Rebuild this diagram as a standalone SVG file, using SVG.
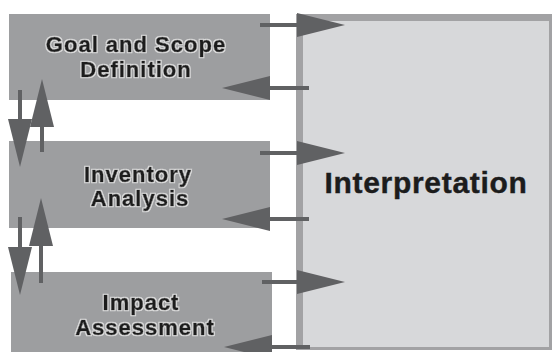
<svg xmlns="http://www.w3.org/2000/svg" width="552" height="352" viewBox="0 0 552 352">
  <style>
    .stage { fill: #9d9ea0; }
    .label { font-family: "Liberation Sans", Arial, sans-serif; font-weight: bold; font-size: 22px; letter-spacing: 1px; fill: #1c1c1c; stroke: #1c1c1c; stroke-width: 0.6; text-anchor: middle; filter: url(#halo); }
    .big { font-family: "Liberation Sans", Arial, sans-serif; font-weight: bold; font-size: 30px; letter-spacing: 0.7px; fill: #1c1c1c; stroke: #1c1c1c; stroke-width: 0.4; text-anchor: middle; }
    .conn { stroke: #606163; stroke-width: 4; fill: none; marker-end: url(#head); }
  </style>
  <defs>
    <marker id="head" markerUnits="userSpaceOnUse" viewBox="0 0 48 24" markerWidth="48" markerHeight="24" refX="0" refY="12" orient="auto">
      <polygon points="0,0 48,12 0,24" fill="#606163"/>
    </marker>
    <filter id="halo" x="-10%" y="-30%" width="120%" height="160%">
      <feMorphology in="SourceAlpha" operator="dilate" radius="1.3" result="d"/>
      <feFlood flood-color="#dedede"/>
      <feComposite in2="d" operator="in" result="h"/>
      <feMerge>
        <feMergeNode in="h"/>
        <feMergeNode in="SourceGraphic"/>
      </feMerge>
    </filter>
  </defs>
  <rect width="552" height="352" fill="#ffffff"/>

  <g id="interpretation">
    <rect x="296" y="14" width="256" height="336" fill="#a2a2a4"/>
    <rect x="303" y="21" width="246" height="326" fill="#d7d8da"/>
    <text class="big" x="426" y="193">Interpretation</text>
  </g>

  <g id="goal-scope">
    <rect class="stage" x="9" y="14" width="261" height="86"/>
    <text class="label" x="136" y="52">Goal and Scope</text>
    <text class="label" x="136" y="77">Definition</text>
  </g>

  <g id="inventory">
    <rect class="stage" x="9" y="141" width="261" height="87"/>
    <text class="label" x="138" y="182">Inventory</text>
    <text class="label" x="140" y="206">Analysis</text>
  </g>

  <g id="impact">
    <rect class="stage" x="11" y="272" width="261" height="82"/>
    <text class="label" x="141" y="310">Impact</text>
    <text class="label" x="145" y="335">Assessment</text>
  </g>

  <g id="connectors">
    <line class="conn" x1="260" y1="25" x2="297" y2="25"/>
    <line class="conn" x1="260" y1="153" x2="297" y2="153"/>
    <line class="conn" x1="262" y1="282" x2="297" y2="282"/>
    <line class="conn" x1="309" y1="88" x2="270" y2="88"/>
    <line class="conn" x1="309" y1="219" x2="270" y2="219"/>
    <line class="conn" x1="310" y1="347" x2="272" y2="347"/>
    <line class="conn" x1="20" y1="90" x2="20" y2="119"/>
    <line class="conn" x1="42" y1="152" x2="42" y2="127"/>
    <line class="conn" x1="20" y1="217" x2="20" y2="247"/>
    <line class="conn" x1="41" y1="283" x2="41" y2="246"/>
  </g>
</svg>
